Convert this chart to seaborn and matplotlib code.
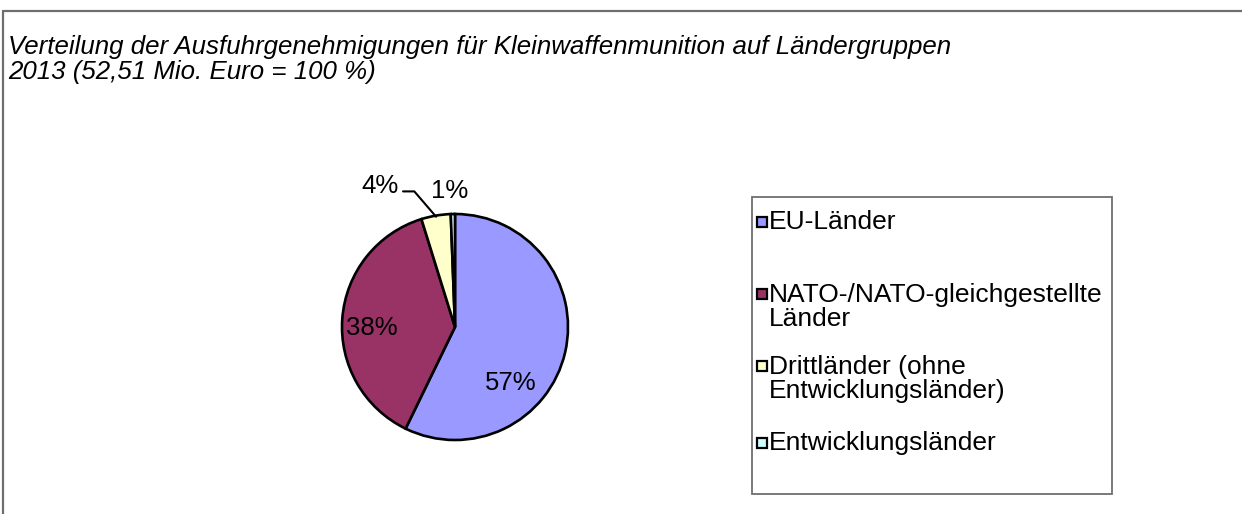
import matplotlib
matplotlib.use("Agg")
import matplotlib.pyplot as plt
from matplotlib.patches import Rectangle
from matplotlib.lines import Line2D
import numpy as np
import seaborn as sns

# data (share of 52,51 Mio. Euro)
groups = ["EU-Länder", "NATO-/NATO-gleichgestellte\nLänder",
          "Drittländer (ohne\nEntwicklungsländer)", "Entwicklungsländer"]
shares = [57.2, 38.0, 4.2, 0.6]
colors = ["#9999FF", "#993366", "#FFFFCC", "#CCFFFF"]

title = "Verteilung der Ausfuhrgenehmigungen für Kleinwaffenmunition auf Ländergruppen\n2013 (52,51 Mio. Euro = 100 %)"

sns.set_style("white")
plt.rcParams["font.family"] = ["Liberation Sans", "DejaVu Sans"]

W, H = 1242, 514
fig = plt.figure(figsize=(W / 100, H / 100), dpi=100)

def fx(px):
    return px / W

def fy(py):
    return 1 - py / H

# outer chart frame (only left and top visible in the crop)
fig.add_artist(Line2D([fx(2.5), fx(2.5)], [fy(11), 0], color="#6e6e6e", lw=1.6))
fig.add_artist(Line2D([fx(2.5), 1], [fy(11), fy(11)], color="#6e6e6e", lw=1.6))

fig.text(fx(8), fy(35), title, ha="left", va="top", fontsize=18.6,
         style="italic", color="black", linespacing=1.07)

# pie
cx, cy, r = 455, 327, 113
ax = fig.add_axes([fx(cx - r), fy(cy + r), fx(2 * r), (2 * r) / H])
wedges, texts, autotexts = ax.pie(
    shares, colors=colors, startangle=90, counterclock=False,
    autopct="%.0f%%", pctdistance=0.7,
    wedgeprops=dict(edgecolor="black", linewidth=1.9),
    textprops=dict(fontsize=18.5, color="black"))
ax.set_xlim(-1, 1)
ax.set_ylim(-1, 1)
ax.set_aspect("equal")
ax.axis("off")

# label positions as in the original (Excel style)
label_pos = [(0.49, -0.50), (-0.74, -0.01), (-0.66, 1.25), (-0.05, 1.20)]
for t, pos in zip(autotexts, label_pos):
    t.set_position(pos)
    t.set_clip_on(False)

# leader line for the 4% slice
w = wedges[2]
mid = np.deg2rad((w.theta1 + w.theta2) / 2)
ax.plot([-0.46, -0.36, np.cos(mid) * 0.99], [1.20, 1.20, np.sin(mid) * 0.99],
        color="black", lw=1.5, clip_on=False)

# legend box drawn like the Excel legend
fig.add_artist(Rectangle((fx(752), fy(494)), fx(1112 - 752), (494 - 197) / H,
                         transform=fig.transFigure, facecolor="white",
                         edgecolor="#6e6e6e", lw=1.3))
first_line = [222, 294, 366, 443]
line_h = 26
for lab, col, y0 in zip(groups, colors, first_line):
    n = lab.count("\n")
    fig.add_artist(Rectangle((fx(757), fy(y0 + 5)), fx(10), 10 / H,
                             transform=fig.transFigure, facecolor=col,
                             edgecolor="black", lw=1.6))
    fig.text(fx(769), fy(y0 + n * line_h / 2), lab, ha="left", va="center",
             fontsize=19.0, color="black", linespacing=1.0)

fig.savefig("out.png", dpi=100)
